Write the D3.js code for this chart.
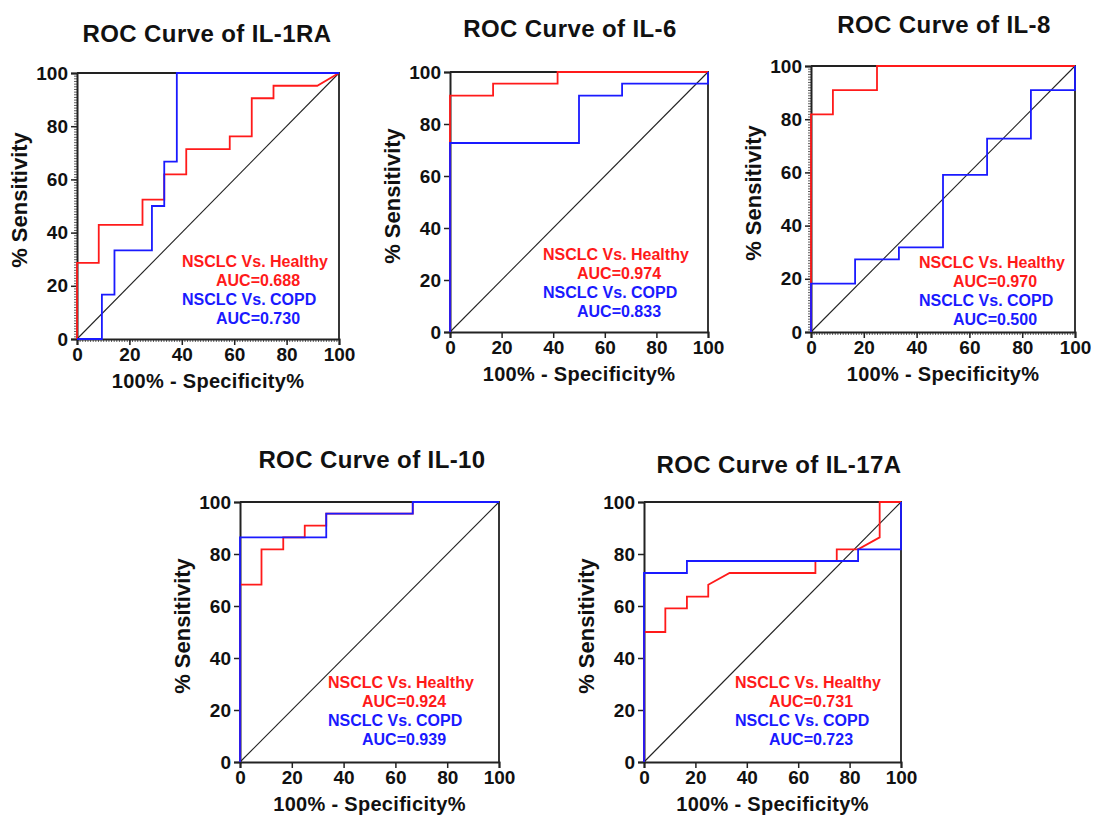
<!DOCTYPE html>
<html>
<head>
<meta charset="utf-8">
<script src="https://cdn.jsdelivr.net/npm/d3@7"></script>
<style>
  body { margin: 0; background: #fff; }
  svg text { font-family: "Liberation Sans", Arial, sans-serif; font-weight: bold; }
</style>
</head>
<body>
<div id="chart"></div>
<script>
(function () {

// ---- data ----
var markers = ['IL-1RA', 'IL-6', 'IL-8', 'IL-10', 'IL-17A'];
var aucHealthy = ['0.688', '0.974', '0.970', '0.924', '0.731'];
var aucCopd = ['0.730', '0.833', '0.500', '0.939', '0.723'];
var ticks = [0, 20, 40, 60, 80, 100];

// [100% - specificity, sensitivity] corner points of each ROC curve
var il1raHealthy = [[0,0],[0,28.6],[8.3,28.6],[8.3,42.9],[25,42.9],[25,52.4],[33.3,52.4],[33.3,61.9],[41.7,61.9],[41.7,71.4],[58.3,71.4],[58.3,76.2],[66.7,76.2],[66.7,90.5],[75,90.5],[75,95.2],[91.7,95.2],[100,100]];
var il1raCopd = [[0,0],[9.5,0],[9.5,16.7],[14.3,16.7],[14.3,33.3],[28.6,33.3],[28.6,50],[33.3,50],[33.3,66.7],[38.1,66.7],[38.1,100],[100,100]];
var il6Healthy = [[0,0],[0,90.9],[16.7,90.9],[16.7,95.5],[41.7,95.5],[41.7,100],[100,100]];
var il6Copd = [[0,0],[0,72.7],[50,72.7],[50,90.9],[66.7,90.9],[66.7,95.5],[100,95.5],[100,100]];
var il8Healthy = [[0,0],[0,81.8],[8.3,81.8],[8.3,90.9],[25,90.9],[25,100],[100,100]];
var il8Copd = [[0,0],[0,18.2],[16.7,18.2],[16.7,27.3],[33.3,27.3],[33.3,31.8],[50,31.8],[50,59.1],[66.7,59.1],[66.7,72.7],[83.3,72.7],[83.3,90.9],[100,90.9],[100,100]];
var il10Healthy = [[0,0],[0,68.2],[8.3,68.2],[8.3,81.8],[16.7,81.8],[16.7,86.4],[25,86.4],[25,90.9],[33.3,90.9],[33.3,95.5],[66.7,95.5],[66.7,100],[100,100]];
var il10Copd = [[0,0],[0,86.4],[33.3,86.4],[33.3,95.5],[66.7,95.5],[66.7,100],[100,100]];
var il17aHealthy = [[0,0],[0,50],[8.3,50],[8.3,59.1],[16.7,59.1],[16.7,63.6],[25,63.6],[25,68.2],[33.3,72.7],[66.7,72.7],[66.7,77.3],[75,77.3],[75,81.8],[83.3,81.8],[91.7,86.4],[91.7,100],[100,100]];
var il17aCopd = [[0,0],[0,72.7],[16.7,72.7],[16.7,77.3],[83.3,77.3],[83.3,81.8],[100,81.8],[100,100]];

var healthyCurves = [il1raHealthy, il6Healthy, il8Healthy, il10Healthy, il17aHealthy];
var copdCurves = [il1raCopd, il6Copd, il8Copd, il10Copd, il17aCopd];

// ---- layout of the five panels (pixels) ----
var panels = [
  {x: 77,  y: 73,  w: 262, h: 266, tx: 207, ty: 42,  ax: 182, ay: 267, minor: true},
  {x: 450, y: 72,  w: 258, h: 260, tx: 570, ty: 37,  ax: 543, ay: 260, minor: false},
  {x: 811, y: 66,  w: 264, h: 266, tx: 944, ty: 33,  ax: 919, ay: 268, minor: true},
  {x: 240, y: 502, w: 259, h: 260, tx: 372, ty: 468, ax: 328, ay: 688, minor: false},
  {x: 644, y: 502, w: 257, h: 260, tx: 779, ty: 473, ax: 735, ay: 688, minor: false}
];

var red = '#ff1a1a', blue = '#1a1aff';

var svg = d3.select('#chart')
            .append('svg')
            .attr('width', 1094)
            .attr('height', 818);

panels.forEach(function (p, i) {

  var x = d3.scaleLinear().domain([0, 100]).range([0, p.w]);
  var y = d3.scaleLinear().domain([0, 100]).range([p.h, 0]);

  var line = d3.line()
               .x(function (d) { return x(d[0]); })
               .y(function (d) { return y(d[1]); });

  svg.append('text')
     .attr('x', p.tx)
     .attr('y', p.ty)
     .attr('text-anchor', 'middle')
     .attr('font-size', 24)
     .attr('letter-spacing', 0.4)
     .attr('fill', '#111')
     .text('ROC Curve of ' + markers[i]);

  var g = svg.append('g')
             .attr('transform', 'translate(' + p.x + ',' + p.y + ')');

  // frame top / right
  g.append('path')
   .attr('d', 'M0,0H' + p.w + 'V' + p.h)
   .attr('fill', 'none')
   .attr('stroke', '#222')
   .attr('stroke-width', 1.8);

  // dotted minor ticks seen on some panels
  if (p.minor) {
    var minorVals = d3.range(0, 101, 1);
    g.append('g')
     .attr('transform', 'translate(0,' + p.h + ')')
     .call(d3.axisBottom(x).tickValues(minorVals).tickSize(3).tickFormat(''))
     .call(function (a) {
       a.select('.domain').remove();
       a.selectAll('.tick line').attr('stroke', '#333').attr('stroke-width', 0.8);
     });
    g.append('g')
     .call(d3.axisLeft(y).tickValues(minorVals).tickSize(3).tickFormat(''))
     .call(function (a) {
       a.select('.domain').remove();
       a.selectAll('.tick line').attr('stroke', '#333').attr('stroke-width', 0.8);
     });
  }

  var xAxis = g.append('g')
               .attr('transform', 'translate(0,' + p.h + ')')
               .call(d3.axisBottom(x).tickValues(ticks).tickSizeOuter(0).tickSize(6).tickPadding(3));
  var yAxis = g.append('g')
               .call(d3.axisLeft(y).tickValues(ticks).tickSizeOuter(0).tickSize(6).tickPadding(3));

  [xAxis, yAxis].forEach(function (a) {
    a.select('.domain').attr('stroke', '#222').attr('stroke-width', 2);
    a.selectAll('.tick line').attr('stroke', '#222').attr('stroke-width', 1.5);
    a.selectAll('.tick text')
     .attr('font-size', 19)
     .attr('font-family', '"Liberation Sans", Arial, sans-serif')
     .attr('font-weight', 'bold')
     .attr('fill', '#111');
  });

  // chance line
  g.append('path')
   .attr('d', line([[0, 0], [100, 100]]))
   .attr('stroke', '#222')
   .attr('stroke-width', 1.1)
   .attr('fill', 'none');

  g.append('path')
   .attr('d', line(healthyCurves[i]))
   .attr('stroke', red)
   .attr('stroke-width', 1.8)
   .attr('fill', 'none');

  g.append('path')
   .attr('d', line(copdCurves[i]))
   .attr('stroke', blue)
   .attr('stroke-width', 1.8)
   .attr('fill', 'none');

  // axis titles
  g.append('text')
   .attr('x', p.w / 2)
   .attr('y', p.h + 49)
   .attr('text-anchor', 'middle')
   .attr('font-size', 20)
   .attr('letter-spacing', 0.3)
   .attr('fill', '#111')
   .text('100% - Specificity%');

  g.append('text')
   .attr('transform', 'translate(-50,' + (p.h / 2 - 6) + ') rotate(-90)')
   .attr('text-anchor', 'middle')
   .attr('font-size', 22)
   .attr('fill', '#111')
   .text('% Sensitivity');

  // annotation
  var lines = [
    {t: 'NSCLC Vs. Healthy', c: red, dx: 0},
    {t: 'AUC=' + aucHealthy[i], c: red, dx: 34},
    {t: 'NSCLC Vs. COPD', c: blue, dx: 0},
    {t: 'AUC=' + aucCopd[i], c: blue, dx: 34}
  ];
  svg.selectAll(null)
     .data(lines)
     .enter().append('text')
     .attr('x', function (d) { return p.ax + d.dx; })
     .attr('y', function (d, k) { return p.ay + k * 19; })
     .attr('font-size', 16)
     .attr('fill', function (d) { return d.c; })
     .text(function (d) { return d.t; });
});

})();
</script>
</body>
</html>
